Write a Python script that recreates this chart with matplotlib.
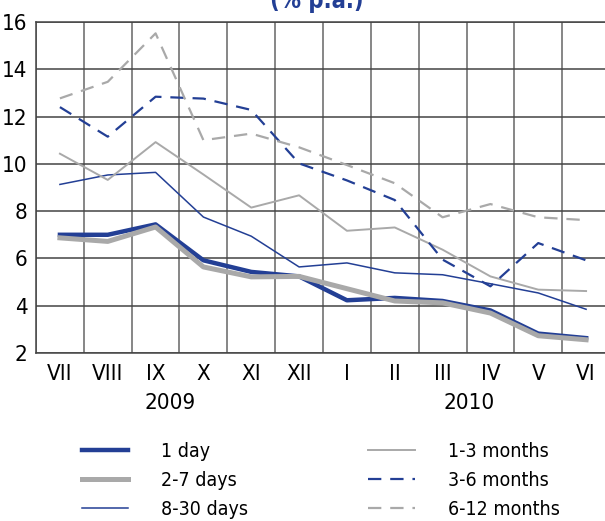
import numpy as np
import matplotlib.pyplot as plt

plt.rcParams['font.family'] = ['DejaVu Sans']
plt.rcParams['font.stretch'] = 'condensed'

# months (Jul 2009 - Jun 2010)
months = ["VII", "VIII", "IX", "X", "XI", "XII", "I", "II", "III", "IV", "V", "VI"]
years = ["2009", "2010"]

# interest rates, % p.a.
day_1 = [7.0, 7.0, 7.44, 5.92, 5.43, 5.24, 4.23, 4.33, 4.2, 3.8, 2.82, 2.63]
days_2_7 = [6.87, 6.72, 7.33, 5.64, 5.22, 5.24, 4.72, 4.2, 4.12, 3.69, 2.73, 2.56]
days_8_30 = [9.13, 9.53, 9.64, 7.75, 6.94, 5.64, 5.81, 5.39, 5.31, 4.93, 4.54, 3.85]
months_1_3 = [10.43, 9.32, 10.92, 9.55, 8.15, 8.67, 7.17, 7.31, 6.37, 5.24, 4.68, 4.62]
months_3_6 = [12.4, 11.15, 12.84, 12.76, 12.28, 10.02, 9.3, 8.47, 5.95, 4.82, 6.65, 5.92]
months_6_12 = [12.77, 13.47, 15.52, 11.0, 11.28, 10.7, 9.95, 9.18, 7.74, 8.3, 7.74, 7.62]

blue = '#233f95'
grey = '#a9a9a9'

fig = plt.figure(figsize=(6.05, 5.21), dpi=100)
ax = fig.add_axes([36/605, 1-353/521, 574/605, 331/521])

x = np.arange(len(months))
ax.plot(x, day_1, color=blue, lw=3.2, label='1 day', solid_joinstyle='round')
ax.plot(x, days_2_7, color=grey, lw=3.6, label='2-7 days', solid_joinstyle='round')
ax.plot(x, days_8_30, color=blue, lw=1.1, label='8-30 days')
ax.plot(x, months_1_3, color=grey, lw=1.4, label='1-3 months')
ax.plot(x, months_3_6, color=blue, lw=1.6, dashes=(6, 4), label='3-6 months')
ax.plot(x, months_6_12, color=grey, lw=1.6, dashes=(6, 4), label='6-12 months')

ax.set_xlim(-0.5, len(months)-0.5)
ax.set_ylim(2, 16)
ax.set_yticks(np.arange(2, 17, 2))
ax.set_xticks(x)
ax.set_xticklabels(months, fontsize=16)
ax.set_xticks(np.arange(-0.5, len(months), 1), minor=True)
ax.tick_params(axis='both', which='both', length=0)
ax.tick_params(axis='x', pad=8)
ax.tick_params(axis='y', labelsize=16, pad=6)
ax.grid(True, which='minor', axis='x', color='#666666', lw=1.1)
ax.grid(True, which='major', axis='y', color='#444444', lw=1.1)
ax.set_axisbelow(True)
for s in ax.spines.values():
    s.set_color('#444444')
    s.set_linewidth(1.1)
ax.spines['right'].set_visible(False)

ax.text(2.3, -0.152, years[0], transform=ax.get_xaxis_transform(), ha='center', va='center', fontsize=16)
ax.text(8.55, -0.152, years[1], transform=ax.get_xaxis_transform(), ha='center', va='center', fontsize=16)

fig.text(317/605, 1-8/521, '(% p.a.)', color=blue, fontsize=17, fontweight='bold',
         ha='center', va='baseline')

leg = fig.legend(loc='upper left', bbox_to_anchor=(74/605, 1-434/521), ncol=2, frameon=False,
                 fontsize=14, handlelength=2.37, handletextpad=1.7, columnspacing=6.2,
                 labelspacing=0.52, borderaxespad=0)

fig.savefig('out.png', dpi=100)
